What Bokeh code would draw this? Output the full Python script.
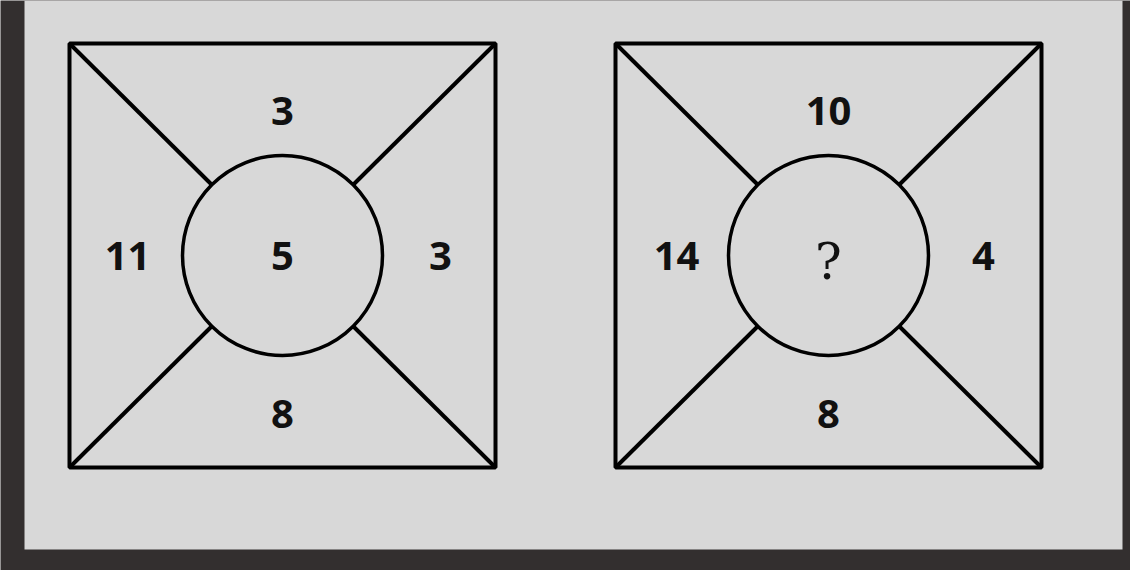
from bokeh.plotting import figure
from bokeh.models import Range1d
from bokeh.core.properties import value
from bokeh.embed import file_html
from bokeh.resources import INLINE
import math

# puzzle values: top, left, right, bottom, centre
top_vals = ["3", "10"]
left_vals = ["11", "14"]
right_vals = ["3", "4"]
bottom_vals = ["8", "8"]
centre_vals = ["5", "?"]

centres_x = [290, 836]
centre_y = 263
half = 213
radius = 100

p = figure(width=1130, height=570, output_backend="svg", toolbar_location=None,
           x_range=Range1d(8, 1138), y_range=Range1d(578, 8),
           min_border=0, background_fill_color="#332f2f", border_fill_color="#332f2f")
p.axis.visible = False
p.grid.visible = False
p.outline_line_color = None

# light panel
p.quad(left=[32], right=[1130], top=[8], bottom=[557], fill_color="#d8d8d8", line_color=None)

k = radius / math.sqrt(2)
for i, cx in enumerate(centres_x):
    x0, x1 = cx - half, cx + half
    y0, y1 = centre_y - half + 1, centre_y + half - 1
    p.quad(left=[x0], right=[x1], top=[y0], bottom=[y1], fill_color=None,
           line_color="black", line_width=4)
    xs, ys = [], []
    for sx in (-1, 1):
        for sy in (-1, 1):
            xs.append([cx + sx * (half), cx + sx * k])
            ys.append([centre_y + sy * (half - 1), centre_y + sy * k])
    p.multi_line(xs, ys, line_color="black", line_width=4)
    p.circle(x=[cx], y=[centre_y], radius=radius, fill_color=None,
             line_color="black", line_width=3.5)

    off = 155 if i == 0 else 152
    p.text(x=[cx, cx - off, cx + off + 3, cx], y=[118, centre_y, centre_y, 421],
           text=[top_vals[i], left_vals[i], right_vals[i], bottom_vals[i]],
           text_font=value("Open Sans"), text_font_style="bold", text_font_size="40px",
           text_align="center", text_baseline="middle", text_color="#111111")
    if centre_vals[i] == "?":
        p.text(x=[cx], y=[centre_y + 6], text=[centre_vals[i]], text_font=value("DejaVu Serif"),
               text_font_size="50px", text_align="center", text_baseline="middle",
               text_color="#111111")
    else:
        p.text(x=[cx], y=[centre_y], text=[centre_vals[i]], text_font=value("Open Sans"),
               text_font_style="bold", text_font_size="40px", text_align="center",
               text_baseline="middle", text_color="#111111")

html = file_html(p, INLINE)
html = html.replace("<body>", '<body style="background:#332f2f">', 1)
open("out.html", "w").write(html)
